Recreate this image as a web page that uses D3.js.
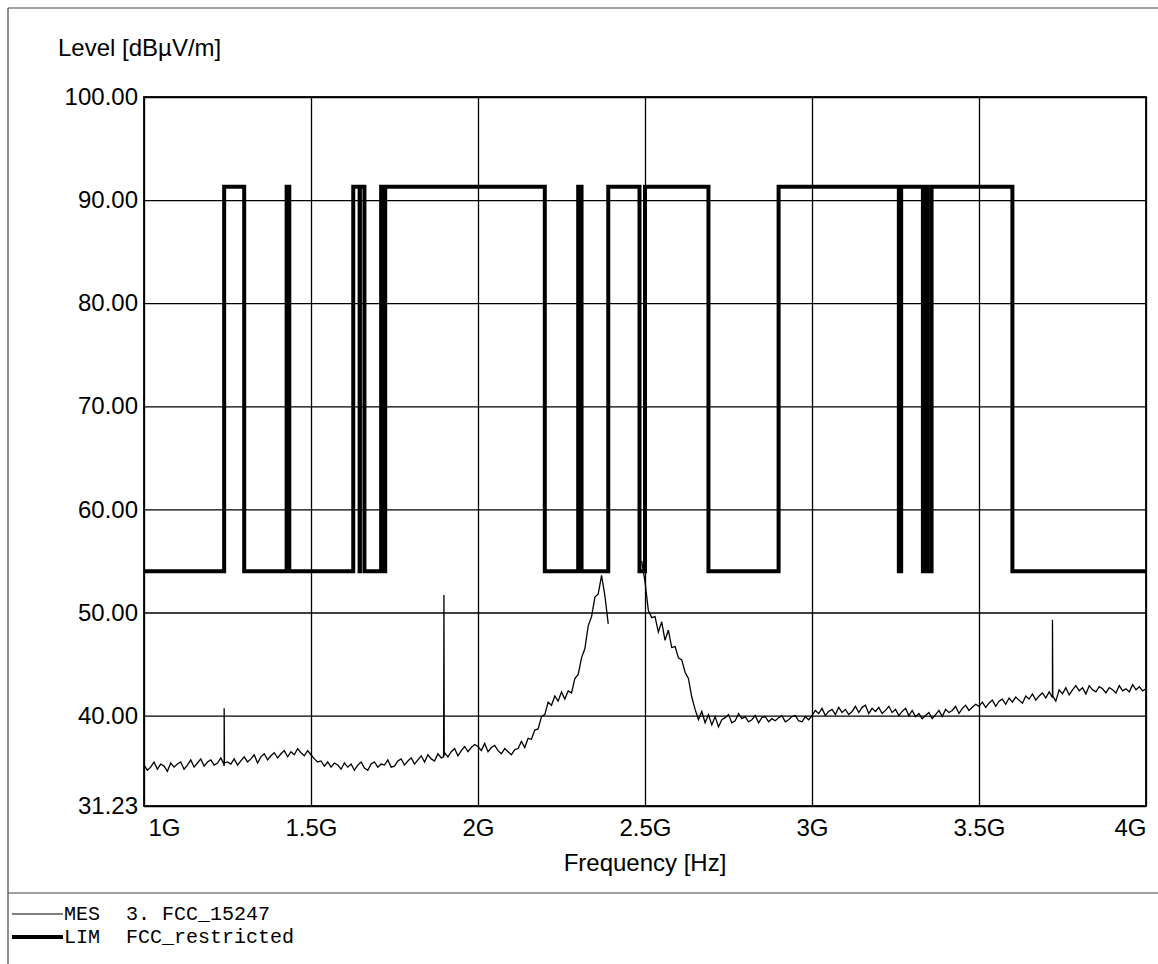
<!DOCTYPE html>
<html>
<head>
<meta charset="utf-8">
<script src="https://cdn.jsdelivr.net/npm/d3@7"></script>
<style>
  body { margin: 0; background: #fff; }
  svg { display: block; }
</style>
</head>
<body>
<div id="chart"></div>
<script>
// taille de la page
const width = 1158, height = 964;
const plot = { left: 144, right: 1146, top: 97, bottom: 806 };

// axes
const yTicks = [31.23, 40, 50, 60, 70, 80, 90, 100];
const xTicks = [1000, 1500, 2000, 2500, 3000, 3500, 4000];
const xTickLabels = ["1G", "1.5G", "2G", "2.5G", "3G", "3.5G", "4G"];

// limite FCC : bandes restreintes (MHz) a 54, le reste a 91.3
const restrictedBands = [
  [1000, 1240], [1300, 1427], [1435, 1626.5], [1645.5, 1646.5], [1660, 1710],
  [1718.8, 1722.2], [2200, 2300], [2310, 2390], [2483.5, 2500], [2690, 2900],
  [3260, 3267], [3332, 3339], [3345.8, 3358], [3600, 4000]
];
const limitRestricted = 54;
const limitOther = 91.3;

// mesure : un point tous les 10 MHz de 1000 a 4000 MHz (null = pas de trace)
const sweepStart = 1000, sweepStep = 10;
const mesLevels = [
  35.2, 34.7, 35.0, 35.5, 34.8, 35.3, 35.1, 34.6, 35.4, 35.0,
  35.3, 35.5, 34.8, 35.2, 35.7, 35.0, 35.4, 35.8, 35.1, 35.5,
  35.7, 35.2, 35.4, 35.9, 35.1, 35.5, 35.3, 35.8, 35.2, 35.6,
  36.0, 35.5, 35.8, 36.2, 35.4, 36.0, 36.3, 35.7, 36.1, 36.4,
  35.9, 36.3, 36.6, 36.0, 36.5, 36.2, 36.8, 36.4, 36.1, 36.6,
  36.2, 35.8, 35.5, 35.6, 35.1, 35.5, 35.0, 35.4, 35.2, 34.8,
  35.4, 35.0, 35.3, 34.7, 35.2, 35.5, 34.9, 34.7, 35.3, 35.5,
  35.0, 35.3, 35.2, 35.7, 35.0, 35.1, 35.6, 35.8, 35.2, 35.6,
  35.9, 35.3, 35.7, 36.1, 35.5, 36.2, 35.8, 35.6, 36.3, 35.9,
  36.4, 36.0, 36.5, 36.8, 36.1, 36.6, 37.0, 36.5, 36.9, 37.2,
  37.0, 36.6, 37.3, 36.5, 36.9, 37.1, 36.6, 36.3, 36.8, 36.5,
  36.2, 36.7, 36.8, 37.5, 36.9, 37.8, 37.7, 38.6, 38.7, 39.9,
  40.1, 41.3, 41.0, 41.9, 41.4, 42.3, 41.6, 42.4, 42.2, 43.6,
  44.0, 45.6, 46.5, 48.7, 49.6, 51.5, 51.8, 53.6, 51.6, 48.9,
  null, null, null, null, null, null, null, null, null, 55.0,
  53.0, 50.2, 49.5, 49.6, 48.1, 49.1, 47.3, 48.3, 46.6, 46.7,
  45.6, 45.4, 44.2, 43.6, 41.8, 40.6, 39.6, 40.4, 39.3, 40.1,
  39.1, 39.9, 38.9, 39.6, 39.8, 40.1, 39.3, 39.5, 40.2, 39.7,
  39.9, 39.4, 39.6, 40.0, 39.3, 39.8, 39.9, 39.4, 39.7, 39.5,
  39.8, 40.0, 39.4, 39.6, 39.9, 40.0, 39.5, 39.4, 39.9, 39.6,
  40.0, 40.5, 40.2, 40.7, 40.0, 40.4, 40.6, 40.1, 40.8, 40.3,
  40.6, 40.1, 40.4, 40.9, 40.3, 40.8, 41.0, 40.2, 40.7, 40.4,
  40.8, 40.2, 40.5, 40.9, 40.3, 40.6, 40.0, 40.4, 40.7, 40.0,
  40.5, 39.9, 40.2, 39.7, 40.0, 40.3, 39.7, 40.1, 40.5, 39.9,
  40.6, 40.3, 40.5, 40.9, 40.2, 40.7, 41.0, 40.5, 40.8, 41.1,
  40.9, 41.3, 40.8, 41.2, 41.5, 40.9, 41.4, 41.6, 41.1, 41.7,
  41.3, 41.8, 41.5, 41.2, 41.9, 41.6, 42.1, 41.5, 41.9, 42.2,
  41.7, 42.3, 41.9, 41.4, 42.5, 42.1, 42.7, 42.0, 42.5, 42.9,
  42.4, 42.7, 42.1, 42.9, 42.5, 42.3, 42.8, 42.6, 42.2, 42.7,
  42.5, 42.2, 42.9, 42.4, 42.6, 42.3, 43.0, 42.5, 42.8, 42.4,
  42.6
];
// pics etroits (MHz, dBuV/m)
const spikePoints = [
  [1239, 35.3], [1240, 40.7], [1241, 35.4],
  [1897, 36.0], [1898, 51.7], [1899, 36.1],
  [3719, 41.8], [3720, 49.3], [3721, 41.9]
];

// legende
const legendItems = [
  { code: "MES", name: "3. FCC_15247", w: 1 },
  { code: "LIM", name: "FCC_restricted", w: 4 }
];

const svg = d3.select("#chart").append("svg")
    .attr("width", width)
    .attr("height", height);

const x = d3.scaleLinear().domain([1000, 4000]).range([plot.left, plot.right]);
const y = d3.scaleLinear().domain([31.23, 100]).range([plot.bottom, plot.top]);

const sans = "'Liberation Sans', Arial, sans-serif";
const mono = "'Liberation Mono', 'Courier New', monospace";

// cadre de la page
svg.append("g").attr("stroke", "#444").attr("stroke-width", 1.2)
  .selectAll("line")
  .data([[8, 8, width, 8], [8, 8, 8, height], [8, 893, width, 893]])
  .join("line")
    .attr("x1", d => d[0]).attr("y1", d => d[1])
    .attr("x2", d => d[2]).attr("y2", d => d[3]);

// grille + axe Y
const gy = svg.append("g")
    .attr("transform", `translate(${plot.left},0)`)
    .call(d3.axisLeft(y).tickValues(yTicks).tickFormat(d3.format(".2f"))
      .tickSize(-(plot.right - plot.left)).tickPadding(6));
gy.select(".domain").remove();
gy.selectAll("line").attr("stroke", "#000").attr("stroke-width", 1.3);
gy.selectAll("text").attr("font-family", sans).attr("font-size", 24).attr("fill", "#000");

// grille + axe X
const gx = svg.append("g")
    .attr("transform", `translate(0,${plot.bottom})`)
    .call(d3.axisBottom(x).tickValues(xTicks)
      .tickFormat((d, i) => xTickLabels[i])
      .tickSize(-(plot.bottom - plot.top)).tickPadding(13));
gx.select(".domain").remove();
gx.selectAll("line").attr("stroke", "#000").attr("stroke-width", 1.3);
gx.selectAll("text").attr("font-family", sans).attr("font-size", 24).attr("fill", "#000")
  .attr("text-anchor", (d, i) => i === 0 ? "start" : (i === xTicks.length - 1 ? "end" : "middle"))
  .attr("dx", (d, i) => i === 0 ? 4 : 0);

// cadre du graphe
svg.append("rect")
    .attr("x", plot.left).attr("y", plot.top)
    .attr("width", plot.right - plot.left).attr("height", plot.bottom - plot.top)
    .attr("fill", "none").attr("stroke", "#000").attr("stroke-width", 1.8);

// titres
svg.append("text").attr("x", 58).attr("y", 56)
    .attr("font-family", sans).attr("font-size", 24).text("Level [dBµV/m]");
svg.append("text").attr("x", (plot.left + plot.right) / 2).attr("y", 871)
    .attr("text-anchor", "middle")
    .attr("font-family", sans).attr("font-size", 24).text("Frequency [Hz]");

// trace mesuree
const mes = mesLevels.map((v, i) => [sweepStart + i * sweepStep, v])
    .concat(spikePoints)
    .sort((a, b) => a[0] - b[0]);

const line = d3.line()
    .defined(d => d[1] !== null)
    .x(d => x(d[0]))
    .y(d => y(d[1]));

svg.append("path")
    .datum(mes)
    .attr("d", line)
    .attr("fill", "none")
    .attr("stroke", "#000")
    .attr("stroke-width", 1.3);

// ligne limite
const lim = [];
let cur = 1000;
restrictedBands.forEach(([a, b]) => {
  if (a > cur) lim.push([cur, limitOther], [a, limitOther]);
  lim.push([a, limitRestricted], [b, limitRestricted]);
  cur = b;
});
if (cur < 4000) lim.push([cur, limitOther], [4000, limitOther]);

svg.append("path")
    .datum(lim)
    .attr("d", line)
    .attr("fill", "none")
    .attr("stroke", "#000")
    .attr("stroke-width", 4)
    .attr("stroke-linejoin", "miter");

// legende
const lg = svg.append("g").selectAll("g")
  .data(legendItems)
  .join("g")
    .attr("transform", (d, i) => `translate(0,${920 + i * 23})`);
lg.append("line")
    .attr("x1", 12).attr("x2", 63).attr("y1", -6).attr("y2", -6)
    .attr("stroke", "#000").attr("stroke-width", d => d.w);
lg.append("text").attr("x", 64)
    .attr("font-family", mono).attr("font-size", 20).text(d => d.code);
lg.append("text").attr("x", 126)
    .attr("font-family", mono).attr("font-size", 20).text(d => d.name);
</script>
</body>
</html>
